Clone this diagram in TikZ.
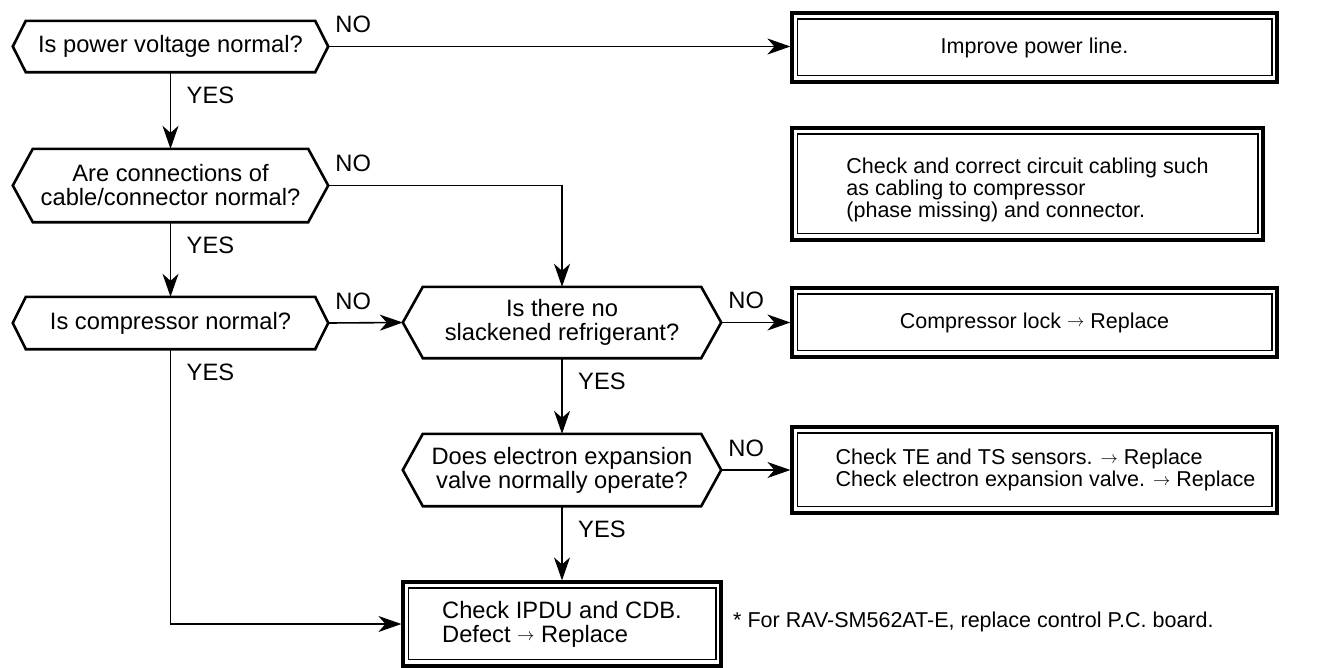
\documentclass[tikz,border=0pt]{standalone}
\usepackage{fontspec}
\setmainfont{Liberation Sans}
\usepackage{graphicx}
\usetikzlibrary{arrows.meta}
\newcommand{\hexfont}{\fontsize{23.7}{24}\selectfont}
\newcommand{\boxfont}{\fontsize{21.5}{22}\selectfont}
\newcommand{\rarr}{{\fontsize{16.5}{16.5}\selectfont\raisebox{1.5pt}{$\rightarrow$}}}
\newcommand{\hexa}[2]{\draw[hexline] (#1.west) -- ([xshift=#2pt]#1.north west) -- ([xshift=-#2pt]#1.north east) -- (#1.east) -- ([xshift=-#2pt]#1.south east) -- ([xshift=#2pt]#1.south west) -- cycle;}
\newcommand{\inbox}[1]{\draw[inline] ([xshift=7pt,yshift=-7.5pt]#1.north west) rectangle ([xshift=-6.5pt,yshift=8pt]#1.south east);}
\tikzset{
  hexnode/.style={rectangle, inner sep=0pt, align=center, font=\hexfont},
  boxnode/.style={rectangle, draw, line width=3.2pt, inner sep=0pt, font=\boxfont},
  hexline/.style={line width=2.6pt, line join=miter},
  inline/.style={line width=1.4pt},
  conn/.style={line width=1.6pt, -{Stealth[length=23pt,width=16pt,inset=7pt]}},
  nolbl/.style={font=\hexfont, anchor=base west, inner sep=0pt, xshift=7pt, yshift=14pt},
  yeslbl/.style={font=\hexfont, anchor=base west, inner sep=0pt, xshift=16pt, yshift=-31.5pt}
}
\begin{document}
\begin{tikzpicture}[x=1pt,y=-1pt]
\useasboundingbox (0,0) rectangle (1337,667);
% decisions
\node[hexnode, minimum width=315pt, minimum height=51pt] (h1) at (170.5,46.5) {Is power voltage normal?};
\node[hexnode, minimum width=315pt, minimum height=73pt] (h2) at (170.5,185.5) {Are connections of\\cable/connector normal?};
\node[hexnode, minimum width=315pt, minimum height=52pt] (h3) at (170.5,323) {Is compressor normal?};
\node[hexnode, minimum width=318pt, minimum height=71pt] (h4) at (562,322.5) {Is there no\\slackened refrigerant?};
\node[hexnode, minimum width=318pt, minimum height=72pt] (h5) at (562,470) {Does electron expansion\\valve normally operate?};
\hexa{h1}{13}
\hexa{h2}{20}
\hexa{h3}{13}
\hexa{h4}{20}
\hexa{h5}{20}
% result boxes
\node[boxnode, minimum width=485pt, minimum height=69pt] (b1) at (1034.5,47.5) {Improve power line.};
\node[boxnode, minimum width=471pt, minimum height=112pt, align=left] (b2) at (1027.5,184) {\rule{0pt}{28pt}Check and correct circuit cabling such\\as cabling to compressor\\(phase missing) and connector.};
\node[boxnode, minimum width=485pt, minimum height=69pt] (b3) at (1034.5,322.5) {Compressor lock \rarr{} Replace};
\node[boxnode, minimum width=485pt, minimum height=86pt, align=left] (b4) at (1034.5,470) {\hspace*{22pt}Check TE and TS sensors. \rarr{} Replace\\\hspace*{22pt}Check electron expansion valve. \rarr{} Replace};
\node[boxnode, minimum width=318pt, minimum height=84pt, align=left, font=\hexfont] (b5) at (562,624) {Check IPDU and CDB.\\Defect \rarr{} Replace};
\inbox{b1}
\inbox{b2}
\inbox{b3}
\inbox{b4}
\inbox{b5}
% connectors
\draw[conn] (h1.east) -- (h1.east -| b1.west);
\draw[conn] (h1.south) -- (h2.north);
\draw[conn] (h2.east) -| (h4.north);
\draw[conn] (h2.south) -- (h3.north);
\draw[conn] (h3.east) -- (h4.west);
\draw[conn] (h3.south) |- (b5.west);
\draw[conn] (h4.east) -- (h4.east -| b3.west);
\draw[conn] (h4.south) -- (h5.north);
\draw[conn] (h5.east) -- (h5.east -| b4.west);
\draw[conn] (h5.south) -- (b5.north);
% labels
\node[nolbl] (n1) at (h1.east) {NO};
\node[nolbl] (n2) at (h2.east) {NO};
\node[nolbl] (n3) at (h3.east) {NO};
\node[nolbl] (n4) at (h4.east) {NO};
\node[nolbl] (n5) at (h5.east) {NO};
\node[yeslbl] (y1) at (h1.south) {YES};
\node[yeslbl] (y2) at (h2.south) {YES};
\node[yeslbl] (y3) at (h3.south) {YES};
\node[yeslbl] (y4) at (h4.south) {YES};
\node[yeslbl] (y5) at (h5.south) {YES};
\node[font=\boxfont, anchor=base west, inner sep=0pt] (note) at (733,627) {* For RAV-SM562AT-E, replace control P.C. board.};
\end{tikzpicture}
\end{document}
